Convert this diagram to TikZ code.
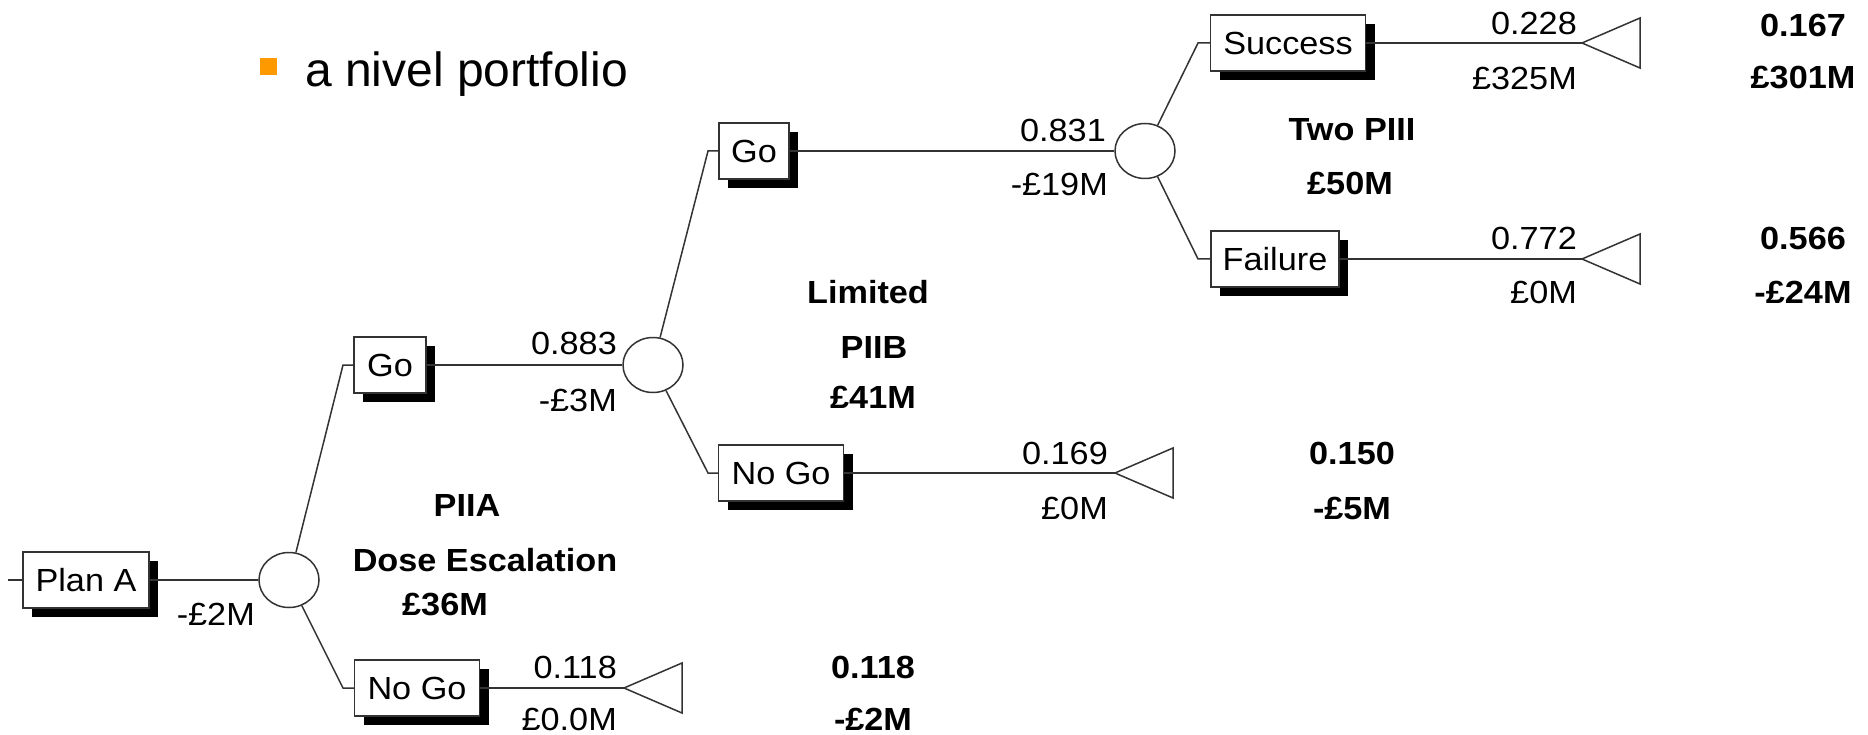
\documentclass[tikz,border=0pt]{standalone}
\usepackage{fontspec}
\setmainfont{Liberation Sans}
\newfontfamily\dgfont[FakeStretch=1.07]{Liberation Sans}
\usetikzlibrary{shapes.geometric,shadows}
\definecolor{bulletorange}{HTML}{FF9900}
\definecolor{ln}{HTML}{333333}
\tikzset{
 dbox/.style={draw=ln, line width=1.5pt, fill=white, rectangle, minimum height=56pt, inner sep=0pt,
   font=\dgfont\fontsize{32}{38}\selectfont,
   drop shadow={shadow xshift=9pt, shadow yshift=-9pt, fill=black, opacity=1}},
 chance/.style={draw=ln, line width=1.5pt, fill=white, ellipse, minimum width=60pt, minimum height=55pt, inner sep=0pt},
 conn/.style={draw=ln, line width=1.5pt},
 term/.style={draw=ln, line width=1.5pt, fill=white, line join=miter},
 lbl/.style={font=\dgfont\fontsize{32}{38}\selectfont, inner sep=0pt, anchor=east},
 blbl/.style={font=\dgfont\bfseries\fontsize{32}{38}\selectfont, inner sep=0pt},
}
\begin{document}
\begin{tikzpicture}[x=1pt,y=-1pt]
\useasboundingbox (0,0) rectangle (1868,735);
\fill[white] (0,0) rectangle (1868,735);

% title
\node[fill=bulletorange, minimum size=17pt, inner sep=0pt] (bul) at (268.5,66.5) {};
\node[anchor=base west, font=\fontsize{48}{56}\selectfont, inner sep=0pt] (title) at (305,87) {a nivel portfolio};

% decision boxes and chance nodes
\node[dbox, minimum width=126pt] (plan) at (86,580) {Plan A};
\node[chance] (c1) at (289,580) {};
\node[dbox, minimum width=72pt] (go1) at (390,365) {Go};
\node[dbox, minimum width=125pt] (ng1) at (417,688) {No Go};
\node[chance] (c2) at (653,365) {};
\node[dbox, minimum width=70pt] (go2) at (754,151) {Go};
\node[dbox, minimum width=125pt] (ng2) at (781,473) {No Go};
\node[chance] (c3) at (1145,151) {};
\node[dbox, minimum width=155pt] (succ) at (1288,43) {Success};
\node[dbox, minimum width=128pt] (fail) at (1275,259) {Failure};

% terminal tips and knees
\coordinate (t1) at (624,688);
\coordinate (t2) at (1115,473);
\coordinate (t3) at (1582,43);
\coordinate (t4) at (1582,259);
\coordinate (k1) at (343,365);
\coordinate (k2) at (343,688);
\coordinate (k3) at (708,151);
\coordinate (k4) at (708,473);
\coordinate (k5) at (1198,43);
\coordinate (k6) at (1198,259);
\coordinate (start) at (8,580);

% connectors
\draw[conn] (start) -- (plan.west);
\draw[conn] (plan) -- (c1);
\draw[conn] (c1) -- (k1) -- (go1.west);
\draw[conn] (c1) -- (k2) -- (ng1.west);
\draw[conn] (go1) -- (c2);
\draw[conn] (ng1) -- (t1);
\draw[conn] (c2) -- (k3) -- (go2.west);
\draw[conn] (c2) -- (k4) -- (ng2.west);
\draw[conn] (go2) -- (c3);
\draw[conn] (ng2) -- (t2);
\draw[conn] (c3) -- (k5) -- (succ.west);
\draw[conn] (c3) -- (k6) -- (fail.west);
\draw[conn] (succ) -- (t3);
\draw[conn] (fail) -- (t4);

% terminal triangles
\draw[term] (t1) -- ++(58,-25) -- ++(0,50) -- cycle;
\draw[term] (t2) -- ++(58,-25) -- ++(0,50) -- cycle;
\draw[term] (t3) -- ++(58,-25) -- ++(0,50) -- cycle;
\draw[term] (t4) -- ++(58,-25) -- ++(0,50) -- cycle;

% branch labels
\node[lbl] (l0) at (255,614) {-£2M};
\node[lbl] (l1) at (617,343) {0.883};
\node[lbl] (l2) at (617,400) {-£3M};
\node[lbl] (l3) at (1106,130) {0.831};
\node[lbl] (l4) at (1108,184) {-£19M};
\node[lbl] (l5) at (1577,23) {0.228};
\node[lbl] (l6) at (1577,78) {£325M};
\node[lbl] (l7) at (1577,238) {0.772};
\node[lbl] (l8) at (1577,292) {£0M};
\node[lbl] (l9) at (1108,453) {0.169};
\node[lbl] (l10) at (1108,508) {£0M};
\node[lbl] (l11) at (617,667) {0.118};
\node[lbl] (l12) at (617,719) {£0.0M};

% outcome values
\node[blbl] (b1) at (873,667) {0.118};
\node[blbl] (b2) at (873,719) {-£2M};
\node[blbl] (b3) at (1352,453) {0.150};
\node[blbl] (b4) at (1352,508) {-£5M};
\node[blbl] (b5) at (1803,25) {0.167};
\node[blbl] (b6) at (1803,78) {£301M};
\node[blbl] (b7) at (1803,238) {0.566};
\node[blbl] (b8) at (1803,292) {-£24M};

% stage labels
\node[blbl] (s1) at (467,505) {PIIA};
\node[blbl] (s2) at (485,560) {Dose Escalation};
\node[blbl] (s3) at (445,605) {£36M};
\node[blbl] (s4) at (868,292) {Limited};
\node[blbl] (s5) at (874,347) {PIIB};
\node[blbl] (s6) at (873,397) {£41M};
\node[blbl] (s7) at (1352,130) {Two PIII};
\node[blbl] (s8) at (1350,183) {£50M};
\end{tikzpicture}
\end{document}
